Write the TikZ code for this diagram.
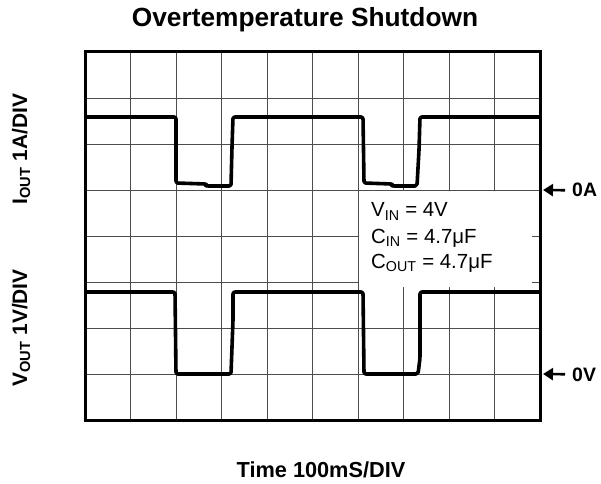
\documentclass[tikz,border=0pt]{standalone}
\usepackage{fontspec}
\setmainfont{Liberation Sans}
\usetikzlibrary{arrows.meta,positioning}
\begin{document}
\begin{tikzpicture}[x=1bp,y=-1bp,
    gridline/.style={black!70,line width=0.9bp},
    scopeframe/.style={line width=3bp},
    trace/.style={line width=3.6bp,line join=round,rounded corners=2bp},
    legendtxt/.style={anchor=base west,inner sep=0pt,font=\fontsize{20.5}{24}\selectfont},
    sidelbl/.style={font=\fontsize{21}{25}\selectfont\bfseries,rotate=90,anchor=base},
    zerolbl/.style={font=\fontsize{19.5}{22}\selectfont\bfseries,anchor=base west,inner sep=1bp},
    zeroarrow/.style={-{Triangle[length=10bp,width=12bp]},line width=2.6bp,shorten <=6bp}]
    \useasboundingbox (0,0) rectangle (601,484);
    % grid
    \foreach \i in {1,...,9}
        \draw[gridline] (85+\i*45.5,52) -- (85+\i*45.5,420);
    \foreach \j in {1,...,7}
        \draw[gridline] (85,52+\j*46) -- (540,52+\j*46);

    % legend
    \fill[white] (359,191) rectangle (532,287);
    \node[legendtxt] (vin)  at (371,217) {V\textsubscript{IN} = 4V};
    \node[legendtxt] (cin)  at (371,243) {C\textsubscript{IN} = 4.7μF};
    \node[legendtxt] (cout) at (371,268) {C\textsubscript{OUT} = 4.7μF};

    % output current
    \draw[trace] (85,117) -- (176,117) -- (176,183) -- (206,184) -- (206,186)
        -- (231,186) -- (232,147) -- (233,117) -- (363,117) -- (364,183)
        -- (392,184) -- (392,186) -- (417,186) -- (419,150) -- (420,117) -- (540,117);
    % output voltage
    \draw[trace] (85,292) -- (175,292) -- (176,374) -- (231,374) -- (233,320)
        -- (233,292) -- (363,292) -- (364,374) -- (418,374) -- (420,358)
        -- (420,292) -- (540,292);

    \draw[scopeframe] (85,52) rectangle (540,420);

    % labels
    \node[anchor=base,font=\fontsize{26.4}{30}\selectfont\bfseries] (title) at (305,27)
        {Overtemperature Shutdown};
    \node[anchor=base,font=\fontsize{21.8}{26}\selectfont\bfseries] (timelbl) at (321,477)
        {Time 100mS/DIV};
    \node[sidelbl] (ilbl) at (27,149) {I\textsubscript{OUT} 1A/DIV};
    \node[sidelbl] (vlbl) at (27,328) {V\textsubscript{OUT} 1V/DIV};

    \node[zerolbl] (zeroA) at (571,197) {0A};
    \node[zerolbl] (zeroV) at (571,381) {0V};
    \coordinate (tipA) at (543,190);
    \coordinate (tipV) at (543,374);
    \draw[zeroarrow] (zeroA.west) -- (tipA);
    \draw[zeroarrow] (zeroV.west) -- (tipV);
\end{tikzpicture}
\end{document}
